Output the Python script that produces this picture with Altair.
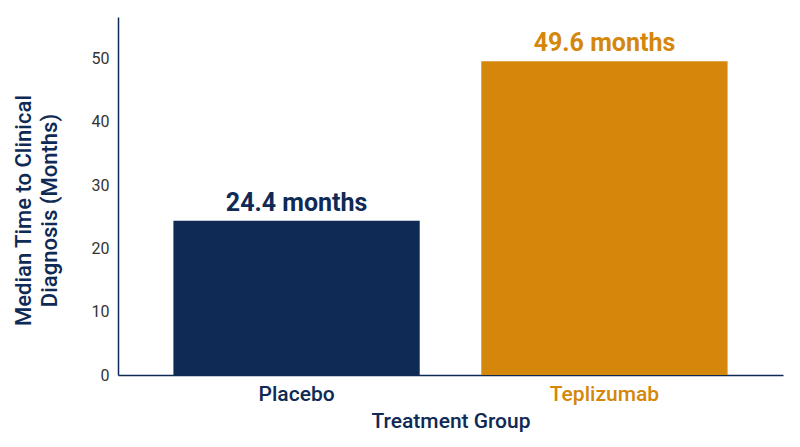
import altair as alt
import pandas as pd

groups = ["Placebo", "Teplizumab"]
medians = [24.4, 49.6]
labels = ["24.4 months", "49.6 months"]
colors = ["#0f2a55", "#d4870b"]

df = pd.DataFrame({"group": groups, "median": medians, "label": labels})

NAVY = "#0f2a55"
FONT = "Roboto"
MED = "'Roboto Medium', Roboto"

x = alt.X(
    "group:N",
    sort=groups,
    scale=alt.Scale(paddingInner=0.2, paddingOuter=0.18),
    axis=alt.Axis(
        title="Treatment Group",
        labelAngle=0,
        labelFontSize=21,
        labelFont=MED,
        labelFontWeight=500,
        labelColor={"expr": f"datum.value == 'Teplizumab' ? '{colors[1]}' : '{colors[0]}'"},
        labelPadding=8,
        ticks=False,
        domainColor=NAVY,
        domainWidth=1.5,
        titleFontSize=21,
        titleFont=MED,
        titleFontWeight=500,
        titleColor=NAVY,
        titlePadding=6,
    ),
)
y = alt.Y(
    "median:Q",
    scale=alt.Scale(domain=[0, 56.6], nice=False),
    axis=alt.Axis(
        title=["Median Time to Clinical", "Diagnosis (Months)"],
        values=[0, 10, 20, 30, 40, 50],
        grid=False,
        ticks=False,
        labelFontSize=16,
        labelFont=FONT,
        labelColor="#333333",
        labelPadding=9,
        domainColor=NAVY,
        domainWidth=1.5,
        titleFontSize=22,
        titleFont=MED,
        titleFontWeight=500,
        titleColor=NAVY,
        titlePadding=30,
        titleLineHeight=26,
        titleY=193,
    ),
)

color = alt.Color("group:N", scale=alt.Scale(domain=groups, range=colors), legend=None)

bars = alt.Chart(df).mark_bar().encode(x=x, y=y, color=color)
text = alt.Chart(df).mark_text(
    baseline="bottom", dy=-5, fontSize=25, fontWeight="bold", font=FONT
).encode(x=x, y=y, text="label:N", color=color)

chart = (
    (bars + text)
    .properties(
        width=665,
        height=358,
        autosize=alt.AutoSizeParams(type="none"),
        padding={"left": 110, "top": 9, "right": 9, "bottom": 64},
    )
    .configure(background="white")
    .configure_view(stroke=None)
)

chart.save("out.html", embed_options={"renderer": "svg", "actions": False})
